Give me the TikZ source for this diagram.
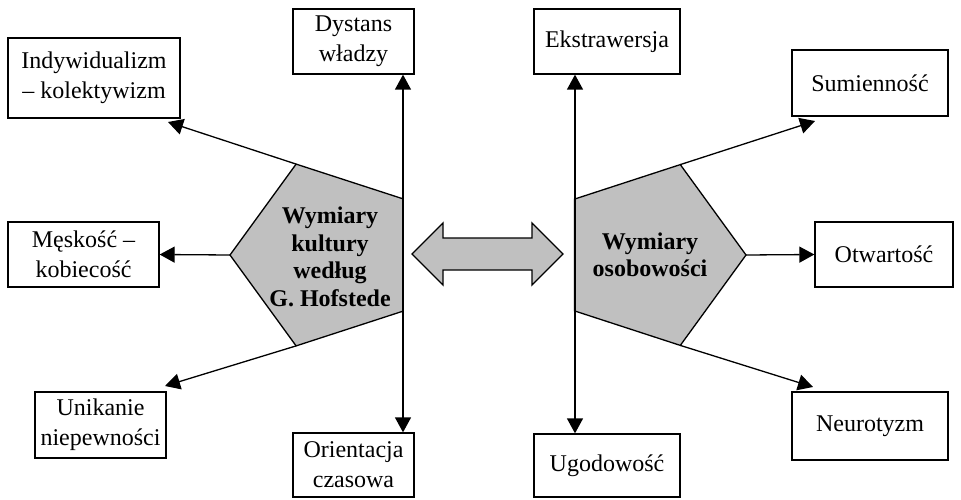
\documentclass[tikz,border=0pt]{standalone}
\usepackage{fontspec}
\setmainfont{Liberation Serif}
\usetikzlibrary{arrows.meta}
\definecolor{pentfill}{RGB}{192,192,192}
\tikzset{
  box/.style={draw, line width=1.3pt, align=center, inner sep=0pt, font=\fontsize{24}{30}\selectfont},
  pent/.style={draw, line width=1.3pt, fill=pentfill, line join=miter},
  ptext/.style={align=center, font=\fontsize{24}{27.5}\selectfont\bfseries},
  arr/.style={line width=1.3pt, -{Triangle[length=15pt,width=16pt]}},
  darr/.style={line width=1.3pt, {Triangle[length=15pt,width=16pt]}-{Triangle[length=15pt,width=16pt]}}
}
\begin{document}
\begin{tikzpicture}[x=1pt,y=-1pt]
\useasboundingbox (0,0) rectangle (961,500);
% boxes
\node[box, minimum width=172pt, minimum height=80pt] (indiv) at (94,78) {Indywidualizm\\– kolektywizm};
\node[box, minimum width=151pt, minimum height=65pt] (mesk) at (83.5,254.5) {Męskość –\\kobiecość};
\node[box, minimum width=131pt, minimum height=66pt] (unik) at (100.5,425) {Unikanie\\niepewności};
\node[box, minimum width=121pt, minimum height=65pt] (dyst) at (353.5,41.5) {Dystans\\władzy};
\node[box, minimum width=121pt, minimum height=64pt] (orient) at (353.5,465) {Orientacja\\czasowa};
\node[box, minimum width=146pt, minimum height=65pt] (ekst) at (607,41.5) {Ekstrawersja};
\node[box, minimum width=146pt, minimum height=63pt] (ugod) at (607,465.5) {Ugodowość};
\node[box, minimum width=156pt, minimum height=66pt] (sum) at (870,83) {Sumienność};
\node[box, minimum width=138pt, minimum height=65pt] (otw) at (884,254.5) {Otwartość};
\node[box, minimum width=156pt, minimum height=68pt] (neur) at (870,426) {Neurotyzm};
% left pentagon vertices
\coordinate (Lw) at (230,255);
\coordinate (Lnw) at (296.1,164.1);
\coordinate (Lne) at (402.9,198.8);
\coordinate (Lse) at (402.9,311.2);
\coordinate (Lsw) at (296.1,345.9);
% right pentagon vertices
\coordinate (Re) at (746,255);
\coordinate (Rne) at (680.3,164.6);
\coordinate (Rnw) at (574.5,199.1);
\coordinate (Rsw) at (574.5,310.9);
\coordinate (Rse) at (680.3,345.4);
\draw[pent] (Lw) -- (Lnw) -- (Lne) -- (Lse) -- (Lsw) -- cycle;
\draw[pent] (Re) -- (Rne) -- (Rnw) -- (Rsw) -- (Rse) -- cycle;
\node[ptext] (kult) at (330,257) {Wymiary\\kultury\\według\\G. Hofstede};
\node[ptext] (osob) at (650,255) {Wymiary\\osobowości};
% double arrow
\draw[pent] (412,254) -- (443,223) -- (443,238) -- (532,238) -- (532,223)
  -- (563,254) -- (532,285) -- (532,270) -- (443,270) -- (443,285) -- cycle;
% arrow targets
\coordinate (tI) at (168,122);
\coordinate (tU) at (165,386);
\coordinate (tS) at (815,121);
\coordinate (tN) at (813,387);
\coordinate (vL) at (403,0);
\coordinate (vR) at (575,0);
% connectors
\draw[arr] (Lnw) -- (tI);
\draw[arr] (Lw) -- (mesk.east);
\draw[arr] (Lsw) -- (tU);
\draw[darr] (dyst.south -| vL) -- (orient.north -| vL);
\draw[darr] (ekst.south -| vR) -- (ugod.north -| vR);
\draw[arr] (Rne) -- (tS);
\draw[arr] (Re) -- (otw.west);
\draw[arr] (Rse) -- (tN);
\end{tikzpicture}
\end{document}
